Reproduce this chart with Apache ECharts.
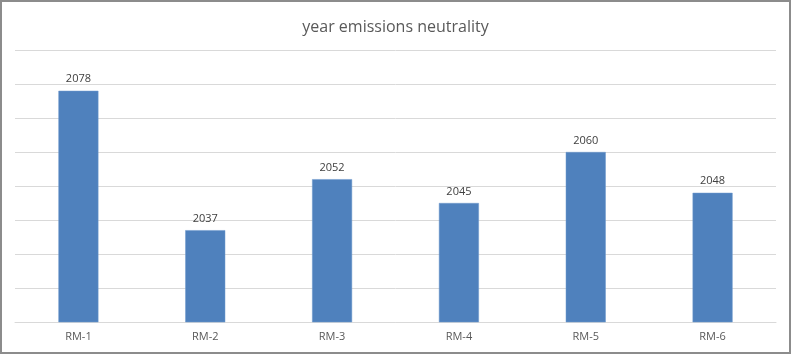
<!DOCTYPE html>
<html>
<head>
<meta charset="utf-8">
<script src="https://cdn.jsdelivr.net/npm/echarts@6/dist/echarts.min.js"></script>
<style>
  html, body { margin: 0; padding: 0; background: #fff; }
  #chart {
    width: 791px;
    height: 354px;
    box-sizing: border-box;
    border: 2px solid #8c8c8c;
  }
</style>
</head>
<body>
<div id="chart"></div>
<script>
const categories = ["RM-1", "RM-2", "RM-3", "RM-4", "RM-5", "RM-6"];
const years = [2078, 2037, 2052, 2045, 2060, 2048];

const chart = echarts.init(document.getElementById("chart"));
chart.setOption({
  animation: false,
  title: {
    text: "year emissions neutrality",
    left: "center",
    top: 12,
    textStyle: {
      fontFamily: "Open Sans",
      fontSize: 16,
      fontWeight: "normal",
      color: "#595959",
    },
  },
  grid: {
    left: 13,
    right: 13,
    top: 48,
    bottom: 30,
  },
  xAxis: {
    type: "category",
    data: categories,
    axisTick: { show: false },
    axisLine: { lineStyle: { color: "#d9d9d9", width: 1 } },
    axisLabel: {
      color: "#595959",
      fontFamily: "Open Sans",
      fontSize: 11,
      margin: 9,
    },
  },
  yAxis: {
    type: "value",
    min: 2010,
    max: 2090,
    interval: 10,
    axisLabel: { show: false },
    axisLine: { show: false },
    axisTick: { show: false },
    splitLine: { lineStyle: { color: "#d9d9d9", width: 1 } },
  },
  series: [
    {
      type: "bar",
      data: years,
      barWidth: 40,
      itemStyle: {
        color: "#4f81bd",
        borderColor: "#6f98cc",
        borderWidth: 0.5,
      },
      label: {
        show: true,
        position: "top",
        distance: 6,
        color: "#404040",
        fontFamily: "Open Sans",
        fontSize: 11,
      },
    },
  ],
});
</script>
</body>
</html>
